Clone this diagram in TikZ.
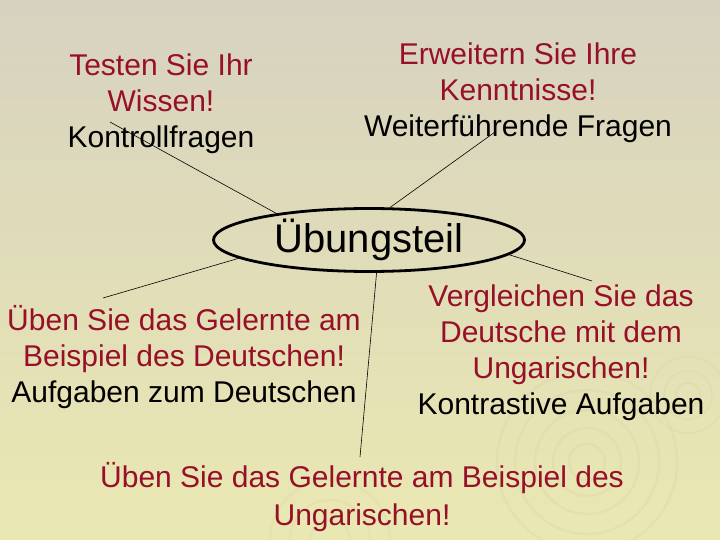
\documentclass[tikz,border=0pt]{standalone}
\usepackage{fontspec}
\setmainfont{Liberation Sans}
\usetikzlibrary{shapes.geometric}

\definecolor{titlered}{HTML}{970F28}
\definecolor{bgtop}{HTML}{D7D2BF}
\definecolor{bgbottom}{HTML}{EAE8B2}
\definecolor{swirl}{HTML}{D9D6A6}

\tikzset{
  textblock/.style={align=center, inner sep=0pt,
    font=\fontsize{30}{36}\selectfont},
  hub/.style={ellipse, draw, line width=2.8pt, inner sep=0pt,
    minimum width=311pt, minimum height=63pt,
    font=\fontsize{40}{44}\selectfont},
  spoke/.style={line width=0.6pt},
}

\begin{document}
\begin{tikzpicture}[x=1pt, y=-1pt]
  % background
  \shade[top color=bgtop, bottom color=bgbottom] (0,0) rectangle (720,540);
  \useasboundingbox (0,0) rectangle (720,540);
  \foreach \r in {18,34,52,72,90}
    \draw[swirl, line width=2.5pt, opacity=0.35] (587,462) circle (\r);
  \foreach \r in {12,24,38}
    \draw[swirl, line width=2pt, opacity=0.35] (688,395) circle (\r);
  \foreach \r in {20,40,60}
    \draw[swirl, line width=2pt, opacity=0.3] (330,540) circle (\r);

  \node[hub] (ueb) at (369,240) {Übungsteil};

  \node[textblock] (testen) at (161,104)
    {\textcolor{titlered}{Testen Sie Ihr}\\\textcolor{titlered}{Wissen!}\\Kontrollfragen};
  \node[textblock] (erweitern) at (518,93)
    {\textcolor{titlered}{Erweitern Sie Ihre}\\\textcolor{titlered}{Kenntnisse!}\\Weiterführende Fragen};
  \node[textblock] (deutsch) at (184,357)
    {\textcolor{titlered}{Üben Sie das Gelernte am}\\\textcolor{titlered}{Beispiel des Deutschen!}\\Aufgaben zum Deutschen};
  \node[textblock] (vergleich) at (561,353)
    {\textcolor{titlered}{Vergleichen Sie das}\\\textcolor{titlered}{Deutsche mit dem}\\\textcolor{titlered}{Ungarischen!}\\Kontrastive Aufgaben};
  \node[textblock, font=\fontsize{30}{38}\selectfont] (ungar) at (362,497)
    {\textcolor{titlered}{Üben Sie das Gelernte am Beispiel des}\\\textcolor{titlered}{Ungarischen!}};

  % free ends of the spokes
  \coordinate (testenend) at (110,122);
  \coordinate (erweiternend) at (495,132);
  \coordinate (deutschend) at (103,298);
  \coordinate (ungarend) at (360,457);
  \coordinate (vergleichend) at (592,281);

  \draw[spoke] (ueb.164.7) -- (testenend);
  \draw[spoke] (ueb.57.5) -- (erweiternend);
  \draw[spoke] (ueb.188.2) -- (deutschend);
  \draw[spoke] (ueb.283) -- (ungarend);
  \draw[spoke] (ueb.354.6) -- (vergleichend);
\end{tikzpicture}
\end{document}
